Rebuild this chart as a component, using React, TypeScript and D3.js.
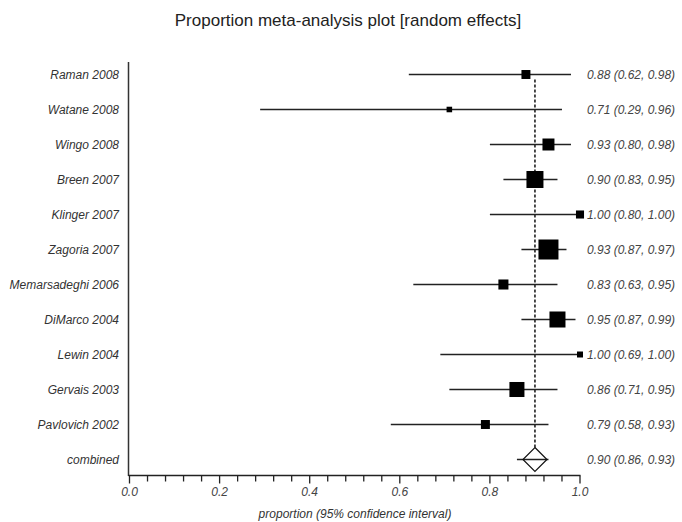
import React, { useRef, useEffect } from "react";
import * as d3 from "d3";

const studies = [
  "Raman 2008",
  "Watane 2008",
  "Wingo 2008",
  "Breen 2007",
  "Klinger 2007",
  "Zagoria 2007",
  "Memarsadeghi 2006",
  "DiMarco 2004",
  "Lewin 2004",
  "Gervais 2003",
  "Pavlovich 2002",
];
const proportions = [0.88, 0.71, 0.93, 0.9, 1.0, 0.93, 0.83, 0.95, 1.0, 0.86, 0.79];
const lower = [0.62, 0.29, 0.8, 0.83, 0.8, 0.87, 0.63, 0.87, 0.69, 0.71, 0.58];
const upper = [0.98, 0.96, 0.98, 0.95, 1.0, 0.97, 0.95, 0.99, 1.0, 0.95, 0.93];
// relative study weights (%)
const weights = [4.7, 1.8, 8.4, 16.9, 3.8, 23.4, 5.9, 15.0, 2.1, 13.2, 4.7];
const combinedLabel = "combined";
const combined = [0.9, 0.86, 0.93];
const xTicks = [0, 0.2, 0.4, 0.6, 0.8, 1.0];

const W = 682;
const H = 522;

function App() {
  const svgRef = useRef(null);

  useEffect(() => {
    const svg = d3.select(svgRef.current);
    svg.selectAll("*").remove();

    const x = d3.scaleLinear().domain([0, 1]).range([129.5, 580]);
    const y = d3
      .scalePoint()
      .domain([...studies, combinedLabel])
      .range([74.5, 459.5]);
    const size = d3.scaleSqrt().domain([0, d3.max(weights)]).range([0, 20]);
    const fmt = d3.format(".2f");
    const font = "'Liberation Sans', Arial, sans-serif";

    svg
      .append("text")
      .attr("x", 348)
      .attr("y", 26)
      .attr("text-anchor", "middle")
      .attr("font-family", font)
      .attr("font-size", 17)
      .attr("fill", "#222")
      .text("Proportion meta-analysis plot [random effects]");

    // dashed line at pooled estimate
    svg
      .append("line")
      .attr("x1", x(combined[0]))
      .attr("x2", x(combined[0]))
      .attr("y1", y(studies[0]) + 5)
      .attr("y2", y(combinedLabel) - 12)
      .attr("stroke", "#111")
      .attr("stroke-width", 1.5)
      .attr("stroke-dasharray", "3,2");

    const rows = svg
      .append("g")
      .selectAll("g")
      .data(studies)
      .join("g")
      .attr("transform", (d) => `translate(0,${y(d)})`);

    rows
      .append("line")
      .attr("x1", (d, i) => x(lower[i]))
      .attr("x2", (d, i) => x(upper[i]))
      .attr("stroke", "#222")
      .attr("stroke-width", 1.3);

    rows
      .append("rect")
      .attr("x", (d, i) => x(proportions[i]) - size(weights[i]) / 2)
      .attr("y", (d, i) => -size(weights[i]) / 2)
      .attr("width", (d, i) => size(weights[i]))
      .attr("height", (d, i) => size(weights[i]))
      .attr("fill", "#000");

    rows
      .append("text")
      .attr("x", 119)
      .attr("dy", "0.35em")
      .attr("text-anchor", "end")
      .attr("font-family", font)
      .attr("font-style", "italic")
      .attr("font-size", 12)
      .attr("fill", "#333")
      .text((d) => d);

    rows
      .append("text")
      .attr("x", 587)
      .attr("dy", "0.35em")
      .attr("font-family", font)
      .attr("font-style", "italic")
      .attr("font-size", 12)
      .attr("fill", "#444")
      .text((d, i) => `${fmt(proportions[i])} (${fmt(lower[i])}, ${fmt(upper[i])})`);

    // combined row
    const cy = y(combinedLabel);
    const cx = x(combined[0]);
    svg
      .append("line")
      .attr("x1", x(combined[1]))
      .attr("x2", x(combined[2]))
      .attr("y1", cy)
      .attr("y2", cy)
      .attr("stroke", "#222")
      .attr("stroke-width", 1.3);
    svg
      .append("path")
      .attr("d", `M${cx},${cy - 12}L${cx + 12},${cy}L${cx},${cy + 12}L${cx - 12},${cy}Z`)
      .attr("fill", "none")
      .attr("stroke", "#111")
      .attr("stroke-width", 1.2);
    svg
      .append("text")
      .attr("x", 119)
      .attr("y", cy)
      .attr("dy", "0.35em")
      .attr("text-anchor", "end")
      .attr("font-family", font)
      .attr("font-style", "italic")
      .attr("font-size", 12)
      .attr("fill", "#333")
      .text(combinedLabel);
    svg
      .append("text")
      .attr("x", 587)
      .attr("y", cy)
      .attr("dy", "0.35em")
      .attr("font-family", font)
      .attr("font-style", "italic")
      .attr("font-size", 12)
      .attr("fill", "#444")
      .text(`${fmt(combined[0])} (${fmt(combined[1])}, ${fmt(combined[2])})`);

    // left axis
    svg
      .append("line")
      .attr("x1", 128.5)
      .attr("x2", 128.5)
      .attr("y1", 62)
      .attr("y2", 476)
      .attr("stroke", "#333")
      .attr("stroke-width", 1.5);

    // bottom axis
    const axisY = 475.5;
    const xAxis = svg.append("g");
    xAxis
      .append("line")
      .attr("x1", x(0) - 1)
      .attr("x2", x(1) + 0.5)
      .attr("y1", axisY)
      .attr("y2", axisY)
      .attr("stroke", "#222")
      .attr("stroke-width", 1.5);
    xAxis
      .selectAll(".minor")
      .data(d3.range(0, 26).map((k) => k * 0.04))
      .join("line")
      .attr("class", "minor")
      .attr("x1", (d) => x(d))
      .attr("x2", (d) => x(d))
      .attr("y1", axisY)
      .attr("y2", (d) => (xTicks.some((t) => Math.abs(t - d) < 1e-6) ? axisY + 8 : axisY + 6))
      .attr("stroke", "#222")
      .attr("stroke-width", 1.3);
    xAxis
      .selectAll(".lab")
      .data(xTicks)
      .join("text")
      .attr("class", "lab")
      .attr("x", (d) => x(d))
      .attr("y", 496)
      .attr("text-anchor", "middle")
      .attr("font-family", font)
      .attr("font-style", "italic")
      .attr("font-size", 12)
      .attr("fill", "#444")
      .text((d) => d3.format(".1f")(d));

    svg
      .append("text")
      .attr("x", 355)
      .attr("y", 518)
      .attr("text-anchor", "middle")
      .attr("font-family", font)
      .attr("font-style", "italic")
      .attr("font-size", 12)
      .attr("fill", "#333")
      .text("proportion (95% confidence interval)");
  }, []);

  return (
    <svg
      ref={svgRef}
      width={W}
      height={H}
      style={{ position: "absolute", left: 0, top: 0, background: "#fff" }}
    />
  );
}

export default App;
